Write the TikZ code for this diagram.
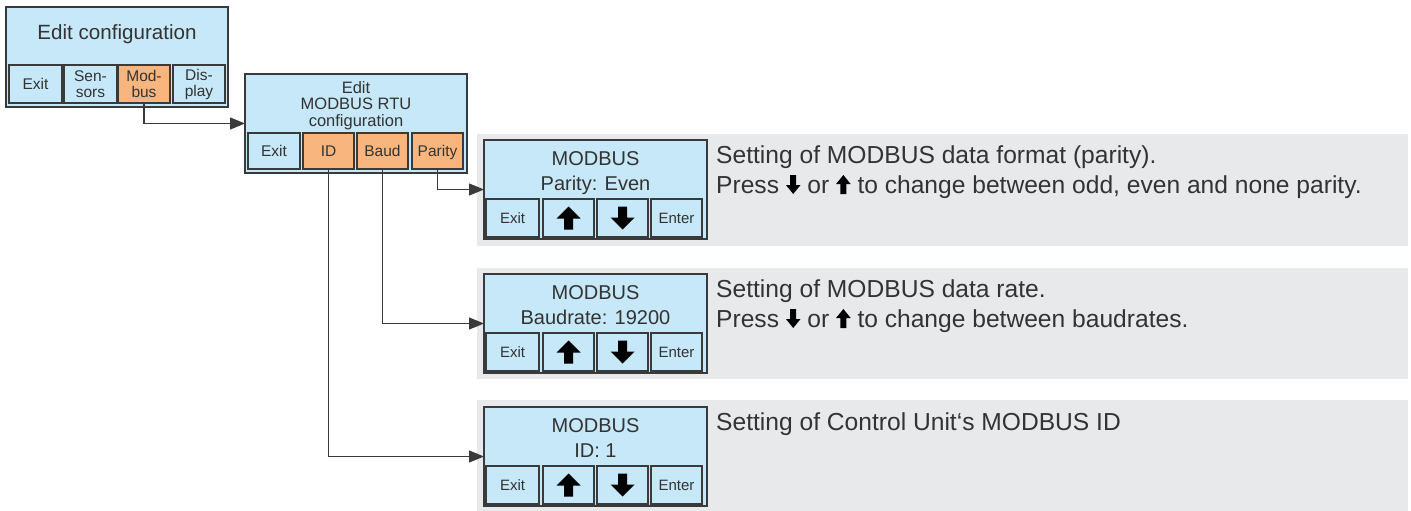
\documentclass[tikz,border=0pt]{standalone}
\usepackage{fontspec}
\setmainfont{Liberation Sans}
\usetikzlibrary{arrows.meta}
\definecolor{lcdblue}{HTML}{C6E8F8}
\definecolor{btnorange}{HTML}{F8B67E}
\definecolor{panelgray}{HTML}{E8E9EB}
\definecolor{ink}{HTML}{333333}
\definecolor{edgec}{HTML}{3A3A3A}
\newcommand{\txtdn}{\tikz[x=1pt,y=1pt,baseline=0pt]\fill[black] (-3,18.5)--(3,18.5)--(3,8.5)--(7.3,8.5)--(0,-0.5)--(-7.3,8.5)--(-3,8.5)--cycle;}
\newcommand{\txtup}{\tikz[x=1pt,y=1pt,baseline=0pt]\fill[black] (-3,-0.5)--(3,-0.5)--(3,9.5)--(7.3,9.5)--(0,18.5)--(-7.3,9.5)--(-3,9.5)--cycle;}
\tikzset{
  screen/.style={draw=edgec, line width=1.4pt, fill=lcdblue, inner sep=0pt, outer sep=0pt},
  btnbase/.style={draw=edgec, line width=1.4pt, fill=lcdblue, inner sep=0pt, outer sep=0pt, text=ink, align=center},
  btnone/.style={btnbase, text height=11pt, text depth=0pt},
  orange/.style={fill=btnorange},
  conn/.style={draw=edgec, line width=1.2pt, -{Triangle[length=15pt,width=12pt]}},
  panel/.style={fill=panelgray, draw=none},
  desc/.style={anchor=base west, inner sep=0pt, text=ink, font=\fontsize{24.6}{28}\selectfont},
  title/.style={anchor=base, inner sep=0pt, text=ink},
  uparrow/.pic={\fill[black] (0,-11.5)--(12,0.5)--(4.5,0.5)--(4.5,11.5)--(-4.5,11.5)--(-4.5,0.5)--(-12,0.5)--cycle;},
  dnarrow/.pic={\fill[black] (0,11.5)--(12,-0.5)--(4.5,-0.5)--(4.5,-11.5)--(-4.5,-11.5)--(-4.5,-0.5)--(-12,-0.5)--cycle;}
}
\begin{document}
\begin{tikzpicture}[x=1pt,y=-1pt]
\useasboundingbox (0,0) rectangle (1411,511);
\fill[white] (0,0) rectangle (1411,511);
% gray panels
\fill[panel] (477,134) rectangle (1408,246);
\fill[panel] (477,268) rectangle (1408,379);
\fill[panel] (477,400) rectangle (1408,511);

% Box 1: Edit configuration
\node[screen, minimum width=222pt, minimum height=100pt] (cfg) at (117,57) {};
\node[title, font=\fontsize{20.6}{22}\selectfont] (cfgt) at (117,39.5) {Edit configuration};
\begin{scope}[every node/.append style={minimum height=38pt, font=\fontsize{15.5}{16}\selectfont}]
\node[btnone, minimum width=53pt] (cexit) at (35.5,84) {Exit};
\node[btnbase, minimum width=53pt] (csens) at (90.5,84) {Sen-\\sors};
\node[btnbase, orange, minimum width=52pt] (cmod) at (144,84) {Mod-\\bus};
\node[btnbase, minimum width=52pt] (cdisp) at (199,84) {Dis-\\play};
\end{scope}

% Box 2: Edit MODBUS RTU configuration
\node[screen, minimum width=222pt, minimum height=99pt] (rtu) at (356,123.5) {};
\node[title, font=\fontsize{16.5}{16}\selectfont] (rtut1) at (356,93) {Edit};
\node[title, font=\fontsize{16.5}{16}\selectfont] (rtut2) at (356,109.5) {MODBUS RTU};
\node[title, font=\fontsize{16.5}{16}\selectfont] (rtut3) at (356,126) {configuration};
\begin{scope}[every node/.append style={minimum height=36pt, minimum width=51pt, font=\fontsize{15.5}{16}\selectfont}]
\node[btnone, minimum width=52pt] (rexit) at (274,151) {Exit};
\node[btnone, orange] (rid) at (328.5,151) {ID};
\node[btnone, orange] (rbaud) at (382.5,151) {Baud};
\node[btnone, orange] (rpar) at (437.5,151) {Parity};
\end{scope}

% MODBUS screens
\foreach \t/\nm/\ln in {140/par/{Parity: Even},274/baud/{Baudrate: 19200},407/id/{ID: 1}}{
  \node[screen, minimum width=223pt, minimum height=99pt] (\nm box) at (595.5,\t+49.5) {};
  \node[title, font=\fontsize{20}{22}\selectfont] (\nm t1) at (595.5,\t+25) {MODBUS};
  \node[title, font=\fontsize{20}{22}\selectfont] (\nm t2) at (595.5,\t+50) {\ln};
  \begin{scope}[every node/.append style={minimum height=38pt, minimum width=51pt, font=\fontsize{15}{16}\selectfont}]
  \node[btnone, minimum width=53pt] (\nm exit) at (512.5,\t+78) {Exit};
  \node[btnone] (\nm up) at (568.5,\t+78) {};
  \node[btnone] (\nm dn) at (622.5,\t+78) {};
  \node[btnone] (\nm ent) at (676.5,\t+78) {Enter};
  \end{scope}
  \pic at (\nm up) {uparrow};
  \pic at (\nm dn) {dnarrow};
}

% descriptions
\node[desc] (d1a) at (716,163) {Setting of MODBUS data format (parity).};
\node[desc] (d1b) at (716,193.5) {Press \txtdn{} or \txtup{} to change between odd, even and none parity.};
\node[desc] (d2a) at (716,297) {Setting of MODBUS data rate.};
\node[desc] (d2b) at (716,327.5) {Press \txtdn{} or \txtup{} to change between baudrates.};
\node[desc] (d3a) at (716,430) {Setting of Control Unit‘s MODBUS ID};

% connectors
\draw[conn] (cmod.south) |- (rtu.west);
\draw[conn] (rpar.south) |- (parbox.west);
\draw[conn] (rbaud.south) |- (baudbox.west);
\draw[conn] (rid.south) |- (idbox.west);
\end{tikzpicture}
\end{document}
